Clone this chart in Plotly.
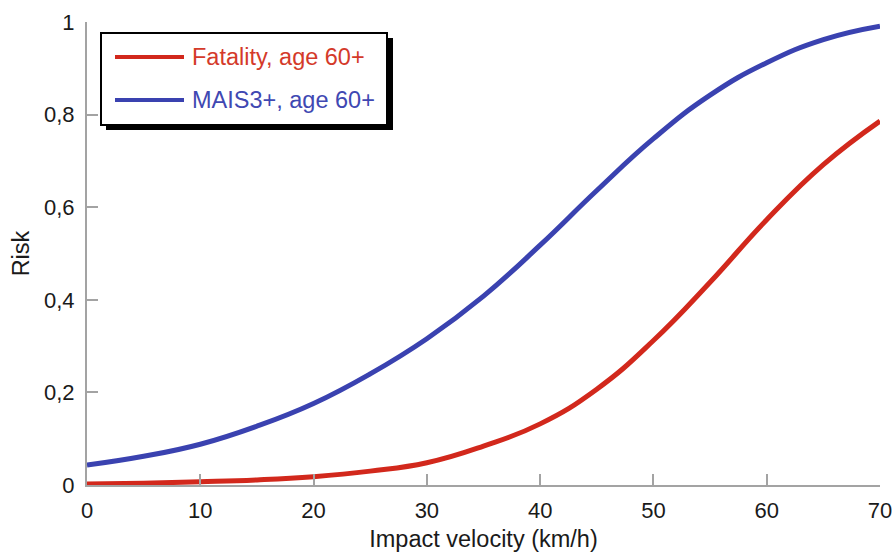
import plotly.graph_objects as go

velocity = [0, 5, 10, 15, 20, 25, 30, 35, 40, 45, 50, 55, 60, 65, 70]
fatality_60 = [0.002, 0.004, 0.007, 0.011, 0.018, 0.030, 0.048, 0.084, 0.132, 0.207, 0.312, 0.438, 0.573, 0.692, 0.786]
mais3_60 = [0.043, 0.062, 0.088, 0.127, 0.176, 0.240, 0.316, 0.408, 0.518, 0.636, 0.748, 0.842, 0.912, 0.962, 0.991]
y_ticks = [0, 0.2, 0.4, 0.6, 0.8, 1]
y_ticktext = ["0", "0,2", "0,4", "0,6", "0,8", "1"]
x_ticks = [0, 10, 20, 30, 40, 50, 60, 70]
series_names = ["Fatality, age 60+", "MAIS3+, age 60+"]

RED = "#d2281c"
BLUE = "#3a42b0"
W, H = 895, 552
L, R, T, B = 87, 15, 22, 67
pw, ph = W - L - R, H - T - B

def px(x):
    return (x - L) / pw

def py(y):
    return (H - B - y) / ph

FAM = "Liberation Sans, Arial, sans-serif"

fig = go.Figure()
fig.add_trace(go.Scatter(x=velocity, y=fatality_60, mode="lines",
                         line=dict(color=RED, width=5, shape="spline", smoothing=1.3),
                         name=series_names[0], showlegend=False, cliponaxis=False))
fig.add_trace(go.Scatter(x=velocity, y=mais3_60, mode="lines",
                         line=dict(color=BLUE, width=5, shape="spline", smoothing=1.3),
                         name=series_names[1], showlegend=False, cliponaxis=False))

axis_col = "#a3a3a3"

shapes = [
    # legend shadow
    dict(type="rect", xref="paper", yref="paper", x0=px(106), x1=px(393), y0=py(130), y1=py(38),
         fillcolor="black", line=dict(width=0), layer="above"),
    # legend box
    dict(type="rect", xref="paper", yref="paper", x0=px(101), x1=px(387), y0=py(125), y1=py(33),
         fillcolor="white", line=dict(color="black", width=2), layer="above"),
    dict(type="line", xref="paper", yref="paper", x0=px(115), x1=px(184), y0=py(57), y1=py(57),
         line=dict(color=RED, width=4), layer="above"),
    dict(type="line", xref="paper", yref="paper", x0=px(115), x1=px(184), y0=py(100), y1=py(100),
         line=dict(color=BLUE, width=4), layer="above"),
]
annotations = [
    dict(xref="paper", yref="paper", x=px(190), y=py(57), text=series_names[0], showarrow=False,
         xanchor="left", yanchor="middle", font=dict(family=FAM, size=23.5, color="#d43a2a")),
    dict(xref="paper", yref="paper", x=px(190), y=py(100), text=series_names[1], showarrow=False,
         xanchor="left", yanchor="middle", font=dict(family=FAM, size=23.5, color="#4048b2")),
]

fig.update_layout(
    width=W, height=H,
    margin=dict(l=L, r=R, t=T, b=B, autoexpand=False),
    paper_bgcolor="white", plot_bgcolor="white",
    font=dict(family=FAM, size=22, color="#1a1a1a"),
    shapes=shapes, annotations=annotations,
    showlegend=False,
)
fig.update_xaxes(range=[0, 70], tickvals=x_ticks, ticks="inside", ticklen=11, tickwidth=1.5, tickcolor=axis_col,
                 showline=True, linecolor=axis_col, linewidth=2, showgrid=False, zeroline=False,
                 ticklabelstandoff=5, automargin=False,
                 title=dict(text="Impact velocity (km/h)", standoff=8, font=dict(size=23.5)))
fig.update_yaxes(range=[0, 1], tickvals=y_ticks, ticktext=y_ticktext, ticks="inside", ticklen=11, tickwidth=1.5,
                 tickcolor=axis_col, showline=True, linecolor=axis_col, linewidth=2, showgrid=False, zeroline=False,
                 ticklabelstandoff=6, automargin=False,
                 title=dict(text="Risk", standoff=8, font=dict(size=23.5)))

fig.write_html("out.html")
